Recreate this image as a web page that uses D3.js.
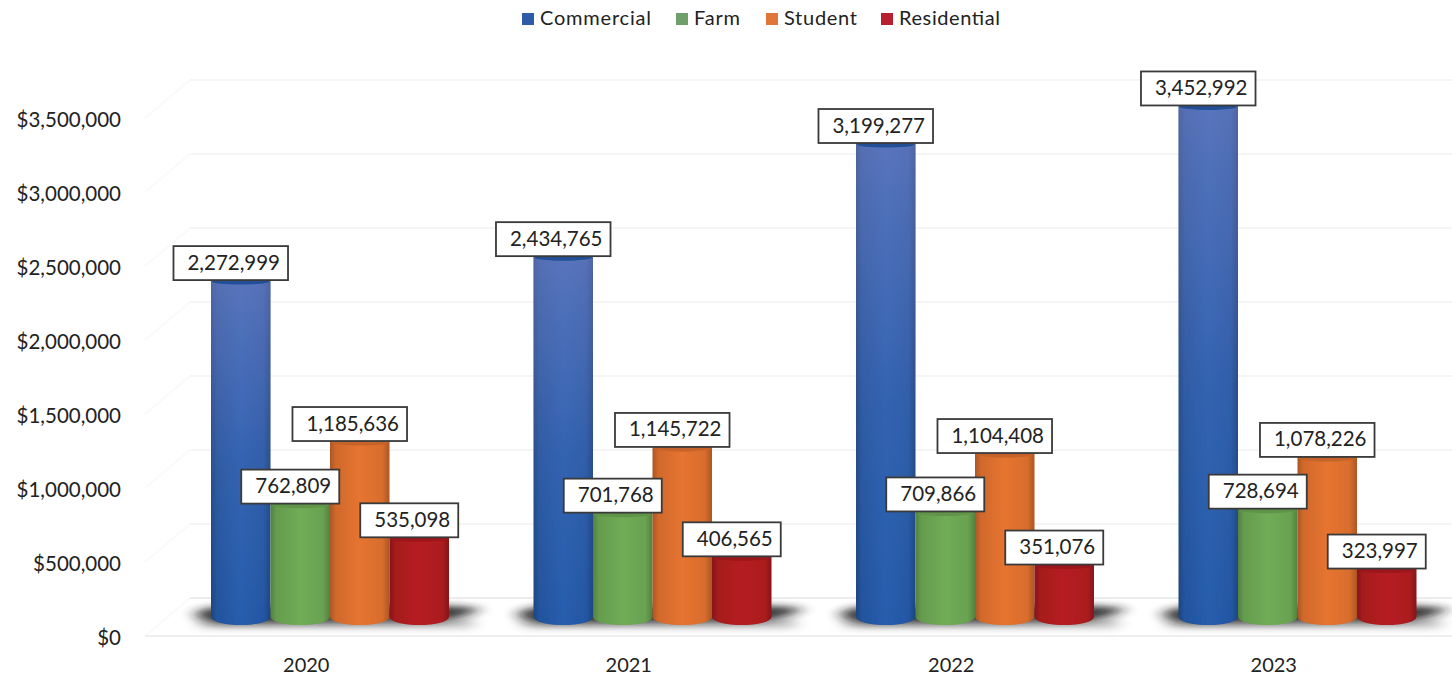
<!DOCTYPE html>
<html>
<head>
<meta charset="utf-8">
<script src="https://cdnjs.cloudflare.com/ajax/libs/d3/7.8.5/d3.min.js"></script>
<style>
  html, body { margin: 0; padding: 0; background: #fff; }
  svg { display: block; }
  text { font-family: Lato, "Open Sans", sans-serif; fill: #222; }
</style>
</head>
<body>
<svg id="chart" width="1452" height="677"></svg>
<script>
// Revenue by customer class, 2020-2023
const years = ["2020", "2021", "2022", "2023"];
const seriesNames = ["Commercial", "Farm", "Student", "Residential"];
const commercial = [2272999, 2434765, 3199277, 3452992];
const farm = [762809, 701768, 709866, 728694];
const student = [1185636, 1145722, 1104408, 1078226];
const residential = [535098, 406565, 351076, 323997];
const seriesValues = [commercial, farm, student, residential];
const seriesColors = ["#2459a6", "#6ba552", "#dc6f2e", "#ae1c20"];
const legendColors = ["#2f5ca8", "#6f9f6a", "#e0763a", "#b81f30"];
const yTicks = [0, 500000, 1000000, 1500000, 2000000, 2500000, 3000000, 3500000];

const W = 1452;
const svg = d3.select("#chart");
const defs = svg.append("defs");

// The plot is a pseudo-3D box: front floor edge, mid plane for the cylinders, back wall.
const depthX = 45, depthY = 38;
const yFront = d3.scaleLinear().domain([0, 3500000]).range([636, 118]);
const yMid = v => yFront(v) - depthY / 2;
const yBack = v => yFront(v) - depthY;

const xYear = d3.scaleBand().domain(years).range([169, 1459]);
const xSeries = d3.scaleBand().domain(seriesNames).range([42, 280]);
const xLabel = d3.scaleBand().domain(years).range([145, 1435]);

// Cylinder shading
seriesColors.forEach((c, i) => {
  const g = defs.append("linearGradient").attr("id", "cyl" + i);
  const base = d3.color(c);
  [[0, base.darker(0.7)], [0.1, base.darker(0.15)], [0.5, base.brighter(0.12)],
   [0.88, base.darker(0.05)], [1, base.darker(0.7)]].forEach(([o, col]) =>
    g.append("stop").attr("offset", o).attr("stop-color", col));
});
const sheen = defs.append("linearGradient").attr("id", "sheen").attr("x1", 0).attr("x2", 0).attr("y1", 0).attr("y2", 1);
sheen.append("stop").attr("offset", 0).attr("stop-color", "#a99bd8").attr("stop-opacity", 0.38);
sheen.append("stop").attr("offset", 0.55).attr("stop-color", "#a99bd8").attr("stop-opacity", 0.1);
sheen.append("stop").attr("offset", 1).attr("stop-color", "#a99bd8").attr("stop-opacity", 0);

const soft = defs.append("filter").attr("id", "soft").attr("x", "-5%").attr("width", "110%");
soft.append("feGaussianBlur").attr("stdDeviation", 0.7);
const shadowBlur = defs.append("filter").attr("id", "shadowBlur")
  .attr("x", "-20%").attr("width", "140%").attr("y", "-100%").attr("height", "300%");
shadowBlur.append("feGaussianBlur").attr("stdDeviation", "8 3.5");

// Back wall gridlines and the diagonals running to the front axis
const grid = svg.append("g").attr("stroke", "#f5f5f5").attr("stroke-width", 2).attr("fill", "none");
grid.selectAll("line.h").data(yTicks).join("line").attr("class", "h")
  .attr("x1", 145 + depthX).attr("x2", W)
  .attr("y1", d => yBack(d)).attr("y2", d => yBack(d));
grid.selectAll("line.d").data(yTicks).join("line").attr("class", "d")
  .attr("stroke", "#fafafa")
  .attr("x1", 145).attr("x2", 145 + depthX)
  .attr("y1", d => yFront(d)).attr("y2", d => yBack(d));
svg.append("line").attr("x1", 145).attr("x2", W).attr("y1", yFront(0)).attr("y2", yFront(0))
  .attr("stroke", "#efefef").attr("stroke-width", 2);
svg.append("line").attr("x1", 190).attr("x2", W).attr("y1", yBack(0)).attr("y2", yBack(0))
  .attr("stroke", "#ececec").attr("stroke-width", 2);

// Value axis
const yAxis = d3.axisLeft(yFront).tickValues(yTicks).tickSize(0).tickPadding(0)
  .tickFormat(d => "$" + d3.format(",")(d));
const yG = svg.append("g").attr("transform", "translate(121,2)").call(yAxis);
yG.select(".domain").remove();
yG.selectAll("text").attr("font-size", 20.5).attr("style", "font-family:Lato,sans-serif;fill:#222");

// Year axis
const xAxis = d3.axisBottom(xLabel).tickSize(0).tickPadding(0);
const xG = svg.append("g").attr("transform", "translate(0,658)").call(xAxis);
xG.select(".domain").remove();
xG.selectAll("text").attr("font-size", 20).attr("style", "font-family:Lato,sans-serif;fill:#222");

// Floor shadows: a soft grey pool under each cluster plus a tapered dark core
const groups = svg.selectAll("g.year").data(years).join("g").attr("class", "year")
  .attr("transform", d => `translate(${xYear(d)},0)`);
const left = xSeries(seriesNames[0]), right = xSeries(seriesNames[3]) + xSeries.bandwidth();
const floorY = yMid(0);
groups.append("rect")
  .attr("x", left - 12).attr("width", right - left + 36)
  .attr("y", floorY + 1).attr("height", 10).attr("rx", 5)
  .attr("fill", "#888").attr("opacity", 0.55).attr("filter", "url(#shadowBlur)");
groups.append("path")
  .attr("d", `M${left - 16},${floorY - 3}Q${left - 8},${floorY - 10} ${left + 10},${floorY - 10}` +
             `L${right},${floorY - 11}Q${right + 22},${floorY - 10} ${right + 32},${floorY - 8}` +
             `Q${right + 16},${floorY} ${right - 10},${floorY + 4}L${left + 10},${floorY + 6}` +
             `Q${left - 10},${floorY + 4} ${left - 16},${floorY - 3}Z`)
  .attr("fill", "#1e1e1e").attr("opacity", 0.9).attr("filter", "url(#shadowBlur)");

// Cylinders: body with a rounded foot and a shallow darker top cap
const capRy = 2.5, footRy = 8;
function cylinderPath(x, w, yTop, yBase) {
  const rx = w / 2;
  return `M${x},${yTop}A${rx},${capRy} 0 0 1 ${x + w},${yTop}L${x + w},${yBase}` +
         `A${rx},${footRy} 0 0 1 ${x},${yBase}Z`;
}
seriesNames.forEach((name, si) => {
  const layer = svg.append("g").attr("filter", "url(#soft)");
  const vals = years.map((y, i) => ({ year: y, value: seriesValues[si][i] }));
  const barX = d => xYear(d.year) + xSeries(name);
  const w = xSeries.bandwidth();
  layer.selectAll("path.body").data(vals).join("path").attr("class", "body")
    .attr("d", d => cylinderPath(barX(d), w, yMid(d.value), yMid(0)))
    .attr("fill", `url(#cyl${si})`);
  if (si === 0) {
    layer.selectAll("path.sheen").data(vals).join("path").attr("class", "sheen")
      .attr("d", d => cylinderPath(barX(d), w, yMid(d.value), yMid(0)))
      .attr("fill", "url(#sheen)");
  }
  layer.selectAll("ellipse.cap").data(vals).join("ellipse").attr("class", "cap")
    .attr("cx", d => barX(d) + w / 2).attr("cy", d => yMid(d.value) + 1)
    .attr("rx", w / 2 - 1).attr("ry", 3)
    .attr("fill", d3.color(seriesColors[si]).darker(0.3));
});

// Boxed value labels, offset left of each cylinder's centre and sitting on its top
const labelLayer = svg.append("g");
seriesNames.forEach((name, si) => {
  years.forEach((y, i) => {
    const v = seriesValues[si][i];
    const cx = xYear(y) + xSeries(name) + xSeries.bandwidth() / 2 - 10;
    const bottom = yMid(v) - 0.5;
    const g = labelLayer.append("g");
    const r = g.append("rect");
    const t = g.append("text").attr("font-size", 20.5).attr("text-anchor", "middle")
      .attr("x", cx + 3).attr("y", bottom - 10.5).attr("fill", "#1a1a1a")
      .text(d3.format(",")(v));
    const bw = t.node().getComputedTextLength() + 22;
    r.attr("x", cx - bw / 2).attr("y", bottom - 34).attr("width", bw).attr("height", 34)
      .attr("fill", "#fff").attr("stroke", "#3a3a3a").attr("stroke-width", 1.8);
  });
});

// Legend
const legendX = [522, 676, 766, 881];
const legendTextWidth = [111, 46, 73, 101];
const legend = svg.append("g");
seriesNames.forEach((name, i) => {
  legend.append("rect").attr("x", legendX[i]).attr("y", 13).attr("width", 12).attr("height", 12)
    .attr("fill", legendColors[i]);
  legend.append("text").attr("x", legendX[i] + 18).attr("y", 25)
    .attr("font-size", 20).attr("textLength", legendTextWidth[i]).text(name);
});
</script>
</body>
</html>
